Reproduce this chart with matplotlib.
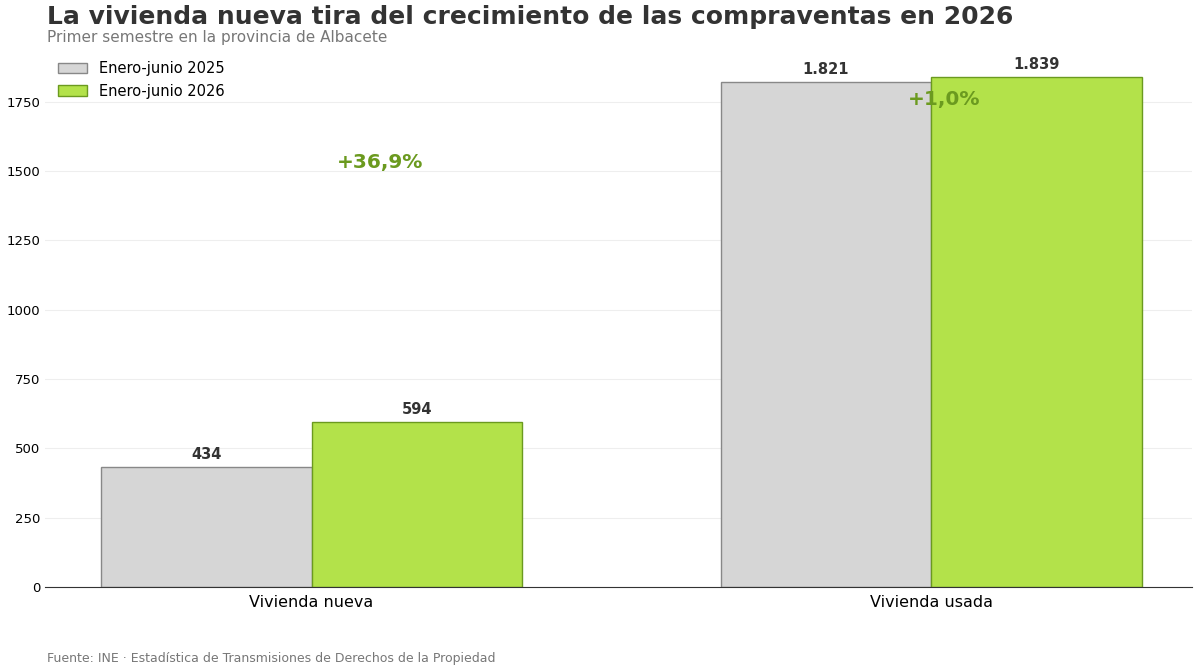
import matplotlib.pyplot as plt
import numpy as np

categories = ['Vivienda nueva', 'Vivienda usada']
values_2025 = [434, 1821]
values_2026 = [594, 1839]
labels_2025 = ['434', '1.821']
labels_2026 = ['594', '1.839']
changes = ['+36,9%', '+1,0%']
change_y = [1530, 1758]

fig = plt.figure(figsize=(12, 6.72), dpi=100)
ax = fig.add_axes([0.0375, 0.1265, 0.9555, 0.79])

x = np.arange(len(categories))
w = 0.34
b1 = ax.bar(x - w/2, values_2025, w, color='#d6d6d6', edgecolor='#888888', label='Enero-junio 2025')
b2 = ax.bar(x + w/2, values_2026, w, color='#b3e24a', edgecolor='#6b9a1f', label='Enero-junio 2026')

for bars, labs in ((b1, labels_2025), (b2, labels_2026)):
    for b, t in zip(bars, labs):
        ax.text(b.get_x() + b.get_width()/2, b.get_height() + 18, t,
                ha='center', va='bottom', fontsize=10.5, fontweight='bold', color='#333333')

for i, (c, yv) in enumerate(zip(changes, change_y)):
    ax.text(x[i] + 0.11 - (0.09 if i == 1 else 0), yv, c, ha='center', va='center',
            fontsize=14.5, fontweight='bold', color='#6b9a1f')

ax.set_xlim(-0.43, 1.42)
ax.set_ylim(0, 1915)
ax.set_xticks(x)
ax.set_xticklabels(categories, fontsize=11.5)
ax.set_yticks(range(0, 1751, 250))
ax.tick_params(axis='y', labelsize=9.5, length=0)
ax.tick_params(axis='x', length=0, pad=6)
ax.yaxis.grid(True, color='#eeeeee', linewidth=0.8)
ax.set_axisbelow(True)
for s in ('top', 'right', 'left'):
    ax.spines[s].set_visible(False)
ax.spines['bottom'].set_color('#333333')

ax.legend(loc='upper left', frameon=False, fontsize=10.5, bbox_to_anchor=(0.0, 1.015))

fig.text(0.039, 0.974, 'La vivienda nueva tira del crecimiento de las compraventas en 2026',
         fontsize=18, fontweight='bold', color='#333333', va='center')
fig.text(0.039, 0.944, 'Primer semestre en la provincia de Albacete', fontsize=11,
         color='#777777', va='center')
fig.text(0.039, 0.02, 'Fuente: INE · Estadística de Transmisiones de Derechos de la Propiedad',
         fontsize=9, color='#777777', va='center')

fig.savefig('out.png', dpi=100)
